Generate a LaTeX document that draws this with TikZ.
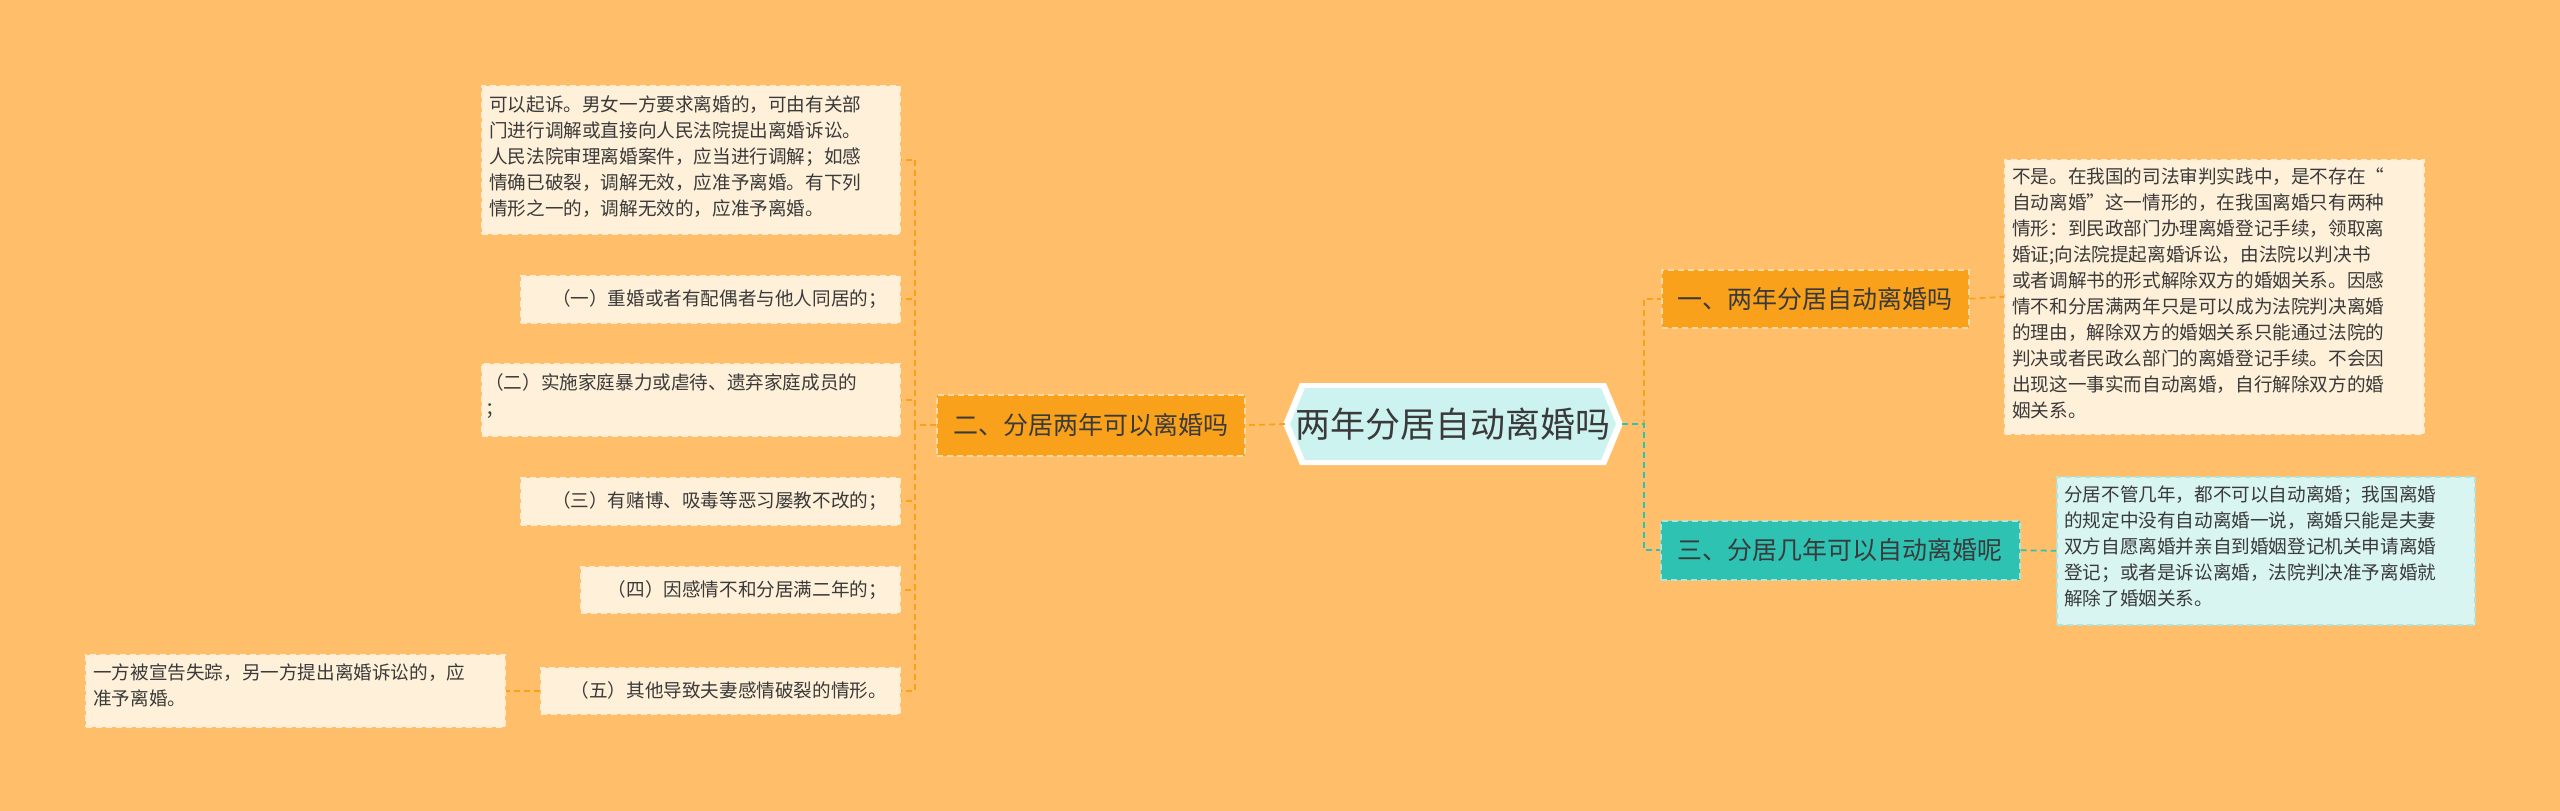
\documentclass[tikz,border=0pt]{standalone}
\usepackage{fontspec}
\setmainfont{Noto Sans CJK SC}
\usetikzlibrary{shapes.geometric}
\definecolor{bg}{HTML}{FFBF6A}
\definecolor{org}{HTML}{F9A11B}
\definecolor{teal}{HTML}{2EC2B3}
\definecolor{cream}{HTML}{FFF0D9}
\definecolor{lteal}{HTML}{D8F5F2}
\definecolor{hexf}{HTML}{CDF3F1}
\definecolor{txt}{HTML}{3A3A3A}
\tikzset{
 leaf/.style={draw=white!70!bg,dash pattern=on 6pt off 4pt,line width=1.5pt,fill=cream,text=txt,inner sep=0pt,anchor=north west,align=left},
 br/.style={draw=white!60!org,dash pattern=on 6pt off 4pt,line width=1.5pt,fill=org,inner sep=0pt,anchor=north west},
 lt/.style={anchor=north west,align=left,font=\fontsize{18.6}{26}\selectfont,text=txt,inner sep=0pt},
 st/.style={font=\fontsize{18.6}{26}\selectfont,text=txt,anchor=east},
 bt/.style={font=\fontsize{25}{30}\selectfont,text=txt},
 lno/.style={org,dash pattern=on 6pt off 4pt,line width=1.8pt},
 lte/.style={teal,dash pattern=on 6pt off 4pt,line width=1.8pt},
}
\begin{document}
\begin{tikzpicture}[x=1pt,y=-1pt]
\fill[bg] (0,0) rectangle (2560,811);
\useasboundingbox (0,0) rectangle (2560,811);
% center hexagon
\fill[white] (1283,424) -- (1300,383) -- (1606,383) -- (1623,424) -- (1606,465) -- (1300,465) -- cycle;
\fill[hexf] (1290,424) -- (1305,388) -- (1601,388) -- (1616,424) -- (1601,460) -- (1305,460) -- cycle;
\node[font=\fontsize{35}{40}\selectfont,text=txt] (c) at (1453,424) {两年分居自动离婚吗};
\coordinate (cl) at (1285,424); \coordinate (cr) at (1622,424);
% branches
\node[br,minimum width=307pt,minimum height=58pt] (b1) at (1661,269) {};
\node[bt] at (b1.center) {一、两年分居自动离婚吗};
\node[br,fill=teal,draw=white!60!teal,minimum width=359pt,minimum height=59pt] (b3) at (1660,520) {};
\node[bt] at (b3.center) {三、分居几年可以自动离婚呢};
\node[br,minimum width=308pt,minimum height=61pt] (b2) at (936,394) {};
\node[bt] at (b2.center) {二、分居两年可以离婚吗};
% right leaves
\node[leaf,minimum width=419pt,minimum height=274pt] (r1) at (2004,159) {};
\node[lt] at (2012,168) {不是。在我国的司法审判实践中，是不存在“\\自动离婚”这一情形的，在我国离婚只有两种\\情形：到民政部门办理离婚登记手续，领取离\\婚证;向法院提起离婚诉讼，由法院以判决书\\或者调解书的形式解除双方的婚姻关系。因感\\情不和分居满两年只是可以成为法院判决离婚\\的理由，解除双方的婚姻关系只能通过法院的\\判决或者民政么部门的离婚登记手续。不会因\\出现这一事实而自动离婚，自行解除双方的婚\\姻关系。};
\node[leaf,fill=lteal,draw=white!60!teal,minimum width=418pt,minimum height=148pt] (r3) at (2056,476) {};
\node[lt] at (2064,486) {分居不管几年，都不可以自动离婚；我国离婚\\的规定中没有自动离婚一说，离婚只能是夫妻\\双方自愿离婚并亲自到婚姻登记机关申请离婚\\登记；或者是诉讼离婚，法院判决准予离婚就\\解除了婚姻关系。};
% left leaves
\node[leaf,minimum width=418pt,minimum height=148pt] (l0) at (481,85) {};
\node[lt] at (489,95) {可以起诉。男女一方要求离婚的，可由有关部\\门进行调解或直接向人民法院提出离婚诉讼。\\人民法院审理离婚案件，应当进行调解；如感\\情确已破裂，调解无效，应准予离婚。有下列\\情形之一的，调解无效的，应准予离婚。};
\node[leaf,minimum width=379pt,minimum height=47pt] (l1) at (520,275) {};
\node[st] at ([xshift=-10pt]l1.east) {（一）重婚或者有配偶者与他人同居的；};
\node[leaf,minimum width=418pt,minimum height=72pt] (l2) at (481,363) {};
\node[lt] at (485,373) {（二）实施家庭暴力或虐待、遗弃家庭成员的\\；};
\node[leaf,minimum width=379pt,minimum height=47pt] (l3) at (520,477) {};
\node[st] at ([xshift=-10pt]l3.east) {（三）有赌博、吸毒等恶习屡教不改的；};
\node[leaf,minimum width=319pt,minimum height=46pt] (l4) at (580,566) {};
\node[st] at ([xshift=-10pt]l4.east) {（四）因感情不和分居满二年的；};
\node[leaf,minimum width=359pt,minimum height=46pt] (l5) at (540,667) {};
\node[st] at ([xshift=-10pt]l5.east) {（五）其他导致夫妻感情破裂的情形。};
\node[leaf,minimum width=419pt,minimum height=72pt] (l6) at (85,654) {};
\node[lt] at (93,664) {一方被宣告失踪，另一方提出离婚诉讼的，应\\准予离婚。};
% connectors
\draw[lno] (cr) -- ++(22,0) |- (b1.west);
\draw[lte] (cr) -- ++(22,0) |- (b3.west);
\draw[lno] (cl) -- (b2.east);
\draw[lno] (b1.east) -- (r1.west);
\draw[lte] (b3.east) -- (r3.west);
\foreach \n in {l0,l1,l2,l3,l4,l5} \draw[lno] (b2.west) -- ++(-21,0) |- (\n.east);
\draw[lno] (l5.west) -- (l6.east);
\end{tikzpicture}
\end{document}
